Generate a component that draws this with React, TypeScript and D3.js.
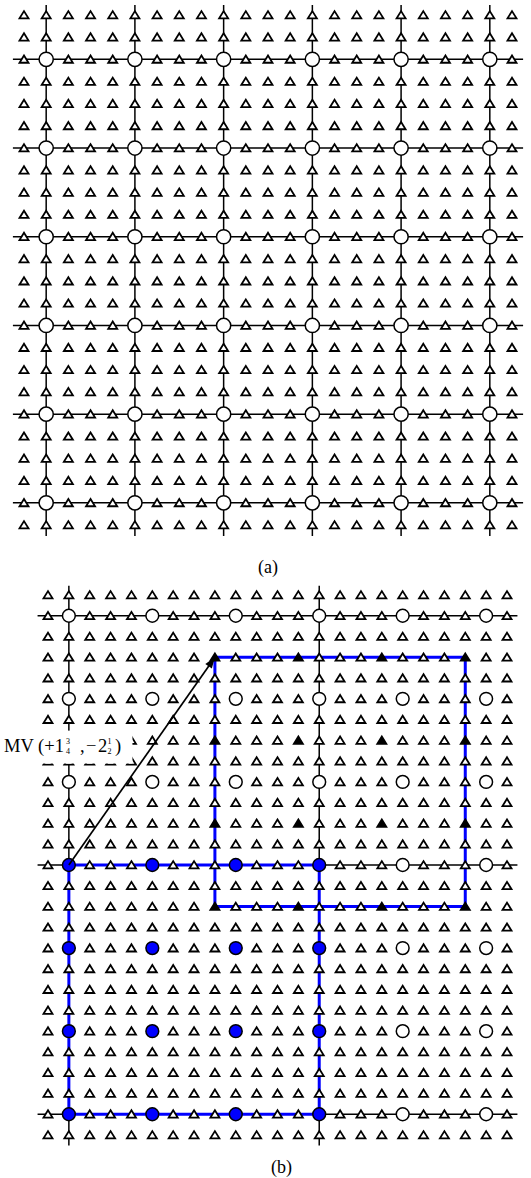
import { useEffect, useRef } from 'react';
import * as d3 from 'd3';

const WIDTH = 531;
const HEIGHT = 1178;

// (a) full-pel samples (circles) on the quarter-pel lattice (triangles)
const colsA = 23;
const rowsA = 24;
const circleColsA = [1, 5, 9, 13, 17, 21];
const circleRowsA = [2, 6, 10, 14, 18, 22];

// (b) motion compensated block
const colsB = 23;
const rowsB = 27;
const circleColsB = [1, 5, 9, 13, 17, 21];
const circleRowsB = [1, 5, 9, 13, 17, 21, 25];
const lineColsB = [1, 13];
const lineRowsB = [1, 13, 25];
const blockCols = [1, 5, 9, 13];
const blockRows = [13, 17, 21, 25];
const motionVector = [1.75, -2.5]; // in full-pel units
const subPel = 4;

const BLUE = '#0000ff';
const SERIF = '"Liberation Serif", "Times New Roman", serif';
const TRI = 'M0,-3.9L4.5,3.4L-4.5,3.4Z';

type Scale = d3.ScaleLinear<number, number>;
type Sel = d3.Selection<any, any, any, any>;

function gridLines(g: Sel, x: Scale, y: Scale, cols: number[], rows: number[], nCols: number, nRows: number) {
  const lg = g.append('g').attr('stroke', '#000').attr('stroke-width', 1.5);
  lg.selectAll('line.v')
    .data(cols)
    .enter()
    .append('line')
    .attr('class', 'v')
    .attr('x1', (d) => x(d))
    .attr('x2', (d) => x(d))
    .attr('y1', y(-0.45))
    .attr('y2', y(nRows - 0.5));
  lg.selectAll('line.h')
    .data(rows)
    .enter()
    .append('line')
    .attr('class', 'h')
    .attr('x1', x(-0.5))
    .attr('x2', x(nCols - 0.5))
    .attr('y1', (d) => y(d))
    .attr('y2', (d) => y(d));
}

function triangles(g: Sel, x: Scale, y: Scale, pts: [number, number][], fill: (p: [number, number]) => string) {
  g.append('g')
    .selectAll('path')
    .data(pts)
    .enter()
    .append('path')
    .attr('d', TRI)
    .attr('transform', (d) => `translate(${x(d[0])},${y(d[1])})`)
    .attr('fill', (d) => fill(d))
    .attr('stroke', '#000')
    .attr('stroke-width', 1.8)
    .attr('stroke-linejoin', 'miter');
}

function circles(g: Sel, x: Scale, y: Scale, pts: [number, number][], fill: string, r: number) {
  g.append('g')
    .selectAll('circle')
    .data(pts)
    .enter()
    .append('circle')
    .attr('cx', (d) => x(d[0]))
    .attr('cy', (d) => y(d[1]))
    .attr('r', r)
    .attr('fill', fill)
    .attr('stroke', '#000')
    .attr('stroke-width', 1.5);
}

const App = () => {
  const svgRef = useRef<SVGSVGElement>(null);

  useEffect(() => {
    const svg = d3.select(svgRef.current);
    svg.selectAll('*').remove();

    // ---------- panel (a)
    const xA = d3.scaleLinear().domain([0, colsA - 1]).range([24, 512]);
    const yA = d3.scaleLinear().domain([0, rowsA - 1]).range([15, 525]);
    const gA = svg.append('g');
    const isCircleA = (c: number, r: number) => circleColsA.includes(c) && circleRowsA.includes(r);

    gridLines(gA, xA, yA, circleColsA, circleRowsA, colsA, rowsA);
    triangles(
      gA, xA, yA,
      d3.cross(d3.range(colsA), d3.range(rowsA)).filter(([c, r]) => !isCircleA(c, r)) as [number, number][],
      () => '#fff'
    );
    circles(gA, xA, yA, d3.cross(circleColsA, circleRowsA) as [number, number][], '#fff', 7.1);

    svg.append('text')
      .attr('x', (xA(0) + xA(colsA - 1)) / 2)
      .attr('y', 573)
      .attr('text-anchor', 'middle')
      .attr('font-family', SERIF)
      .attr('font-size', 18)
      .text('(a)');

    // ---------- panel (b)
    const xB = d3.scaleLinear().domain([0, colsB - 1]).range([48, 507]);
    const yB = d3.scaleLinear().domain([0, rowsB - 1]).range([595, 1135]);
    const gB = svg.append('g');
    const dc = motionVector[0] * subPel;
    const dr = motionVector[1] * subPel;
    const isCircleB = (c: number, r: number) => circleColsB.includes(c) && circleRowsB.includes(r);
    const isBlock = (c: number, r: number) => blockCols.includes(c) && blockRows.includes(r);
    const refCols = blockCols.map((c) => c + dc);
    const refRows = blockRows.map((r) => r + dr);
    const isRef = (c: number, r: number) => refCols.includes(c) && refRows.includes(r);

    gridLines(gB, xB, yB, lineColsB, lineRowsB, colsB, rowsB);

    // blue block outlines (current block and displaced reference block)
    const outline = (c0: number, r0: number, c1: number, r1: number) =>
      `M${xB(c0)},${yB(r0)}H${xB(c1)}V${yB(r1)}H${xB(c0)}Z`;
    const c0 = d3.min(blockCols)!, c1 = d3.max(blockCols)!;
    const r0 = d3.min(blockRows)!, r1 = d3.max(blockRows)!;
    gB.append('g')
      .attr('fill', 'none')
      .attr('stroke', BLUE)
      .attr('stroke-width', 3)
      .selectAll('path')
      .data([
        [c0, r0, c1, r1],
        [c0 + dc, r0 + dr, c1 + dc, r1 + dr],
      ])
      .enter()
      .append('path')
      .attr('d', (d) => outline(d[0], d[1], d[2], d[3]));

    triangles(
      gB, xB, yB,
      d3.cross(d3.range(colsB), d3.range(rowsB)).filter(([c, r]) => !isCircleB(c, r)) as [number, number][],
      (p) => (isRef(p[0], p[1]) ? '#000' : '#fff')
    );
    circles(
      gB, xB, yB,
      d3.cross(circleColsB, circleRowsB).filter(([c, r]) => !isBlock(c, r)) as [number, number][],
      '#fff', 6.4
    );
    circles(gB, xB, yB, d3.cross(blockCols, blockRows) as [number, number][], BLUE, 6.4);

    // motion vector arrow
    const sx = xB(c0), sy = yB(r0);
    const tx = xB(c0 + dc), ty = yB(r0 + dr);
    const ang = Math.atan2(ty - sy, tx - sx);
    gB.append('line')
      .attr('x1', sx).attr('y1', sy)
      .attr('x2', tx - 6 * Math.cos(ang)).attr('y2', ty - 6 * Math.sin(ang))
      .attr('stroke', '#000')
      .attr('stroke-width', 1.7);
    const hl = 11, hw = 4;
    const bx = tx - hl * Math.cos(ang), by = ty - hl * Math.sin(ang);
    gB.append('path')
      .attr('d', `M${tx},${ty}L${bx + hw * Math.sin(ang)},${by - hw * Math.cos(ang)}L${bx - hw * Math.sin(ang)},${by + hw * Math.cos(ang)}Z`)
      .attr('fill', '#000');

    // MV label (white box hides part of the lattice)
    const lab = svg.append('g').attr('font-family', SERIF).attr('fill', '#000');
    lab.append('rect')
      .attr('x', 0)
      .attr('y', yB(6) + 11)
      .attr('width', xB(4) + 1)
      .attr('height', yB(8) + 2.4 - (yB(6) + 11))
      .attr('fill', '#fff');
    const base = 752;
    const piece = (x: number, y: number, size: number, t: string) =>
      lab.append('text').attr('x', x).attr('y', y).attr('font-size', size).text(t);
    piece(4, base, 18.5, 'MV (+1');
    piece(66, base - 8.5, 8, '3');
    piece(66, base + 2, 8, '4');
    piece(80, base, 18.5, ',');
    piece(86, base, 18.5, '\u2212');
    piece(98, base, 18.5, '2');
    piece(107.5, base - 8.5, 8, '1');
    piece(107.5, base + 2, 8, '2');
    piece(115, base, 18.5, ')');

    svg.append('text')
      .attr('x', (xB(0) + xB(colsB - 1)) / 2 + 4)
      .attr('y', 1173)
      .attr('text-anchor', 'middle')
      .attr('font-family', SERIF)
      .attr('font-size', 18)
      .text('(b)');

    return () => {
      svg.selectAll('*').remove();
    };
  }, []);

  return (
    <svg
      ref={svgRef}
      width={WIDTH}
      height={HEIGHT}
      style={{ position: 'absolute', left: 0, top: 0, background: '#fff' }}
    />
  );
};

export default App;
